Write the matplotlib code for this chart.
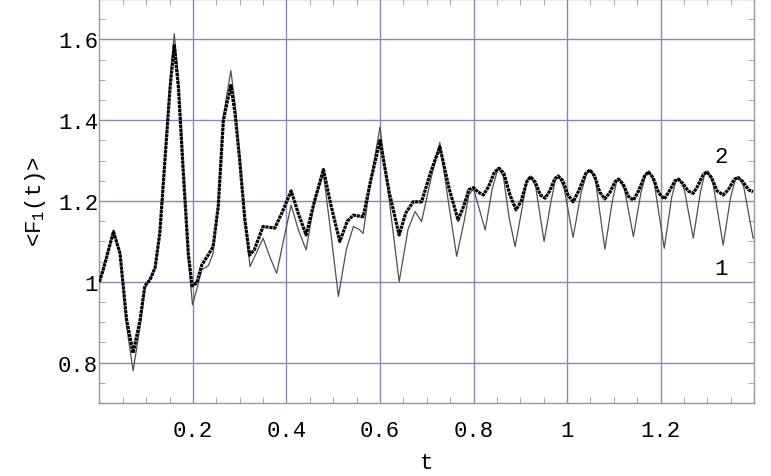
import numpy as np
import matplotlib
matplotlib.use("Agg")
import matplotlib.pyplot as plt
from matplotlib.ticker import MultipleLocator

plt.rcParams['font.family'] = ['Liberation Mono', 'DejaVu Sans Mono']
plt.rcParams['mathtext.fontset'] = 'custom'
plt.rcParams['mathtext.rm'] = 'Liberation Mono'

# curve 2 (thick dotted)
t2 = [0.000, 0.008, 0.030, 0.044, 0.058, 0.072, 0.087, 0.097, 0.108, 0.119,
      0.129, 0.140, 0.151, 0.160, 0.169, 0.179, 0.190, 0.198, 0.208, 0.219,
      0.233, 0.243, 0.254, 0.265, 0.281, 0.290, 0.300, 0.311, 0.321, 0.331,
      0.350, 0.375, 0.390, 0.410, 0.425, 0.442, 0.460, 0.479, 0.495, 0.514,
      0.530, 0.543, 0.564, 0.580, 0.600, 0.620, 0.641, 0.655, 0.671, 0.689,
      0.708, 0.728, 0.748, 0.767,
      0.780, 0.790, 0.800, 0.810, 0.821, 0.832, 0.845, 0.855, 0.865, 0.878,
      0.891, 0.902, 0.914, 0.922, 0.932, 0.943, 0.953, 0.963, 0.974, 0.981,
      0.991, 1.002, 1.013, 1.025, 1.040, 1.049, 1.059, 1.070, 1.081, 1.092,
      1.103, 1.110, 1.120, 1.131, 1.142, 1.153, 1.166, 1.174, 1.184, 1.196,
      1.208, 1.219, 1.231, 1.238, 1.248, 1.259, 1.270, 1.280, 1.291, 1.299,
      1.309, 1.321, 1.334, 1.345, 1.358, 1.366, 1.376, 1.388, 1.398]
f2 = [1.000, 1.030, 1.124, 1.070, 0.906, 0.824, 0.906, 0.990, 1.005, 1.035,
      1.120, 1.300, 1.480, 1.585, 1.480, 1.277, 1.070, 0.990, 0.997, 1.042,
      1.067, 1.087, 1.186, 1.400, 1.486, 1.417, 1.300, 1.153, 1.066, 1.079,
      1.137, 1.133, 1.170, 1.225, 1.170, 1.116, 1.200, 1.278, 1.190, 1.100,
      1.150, 1.165, 1.161, 1.250, 1.350, 1.220, 1.116, 1.170, 1.198, 1.198,
      1.270, 1.334, 1.230, 1.153,
      1.190, 1.228, 1.233, 1.222, 1.215, 1.235, 1.272, 1.281, 1.268, 1.215,
      1.178, 1.200, 1.248, 1.260, 1.247, 1.215, 1.207, 1.225, 1.255, 1.262,
      1.250, 1.215, 1.198, 1.225, 1.268, 1.277, 1.262, 1.222, 1.205, 1.222,
      1.248, 1.254, 1.242, 1.212, 1.202, 1.225, 1.262, 1.272, 1.258, 1.220,
      1.205, 1.225, 1.250, 1.254, 1.243, 1.225, 1.219, 1.238, 1.265, 1.272,
      1.258, 1.225, 1.215, 1.228, 1.254, 1.258, 1.248, 1.228, 1.223]

# curve 1 (thin)
t1 = [0.000, 0.008, 0.030, 0.044, 0.058, 0.072, 0.087, 0.097, 0.108, 0.119,
      0.129, 0.140, 0.151, 0.160, 0.169, 0.179, 0.190, 0.199, 0.210, 0.219,
      0.233, 0.243, 0.254, 0.265, 0.281, 0.290, 0.300, 0.311, 0.322, 0.335,
      0.350, 0.365, 0.379, 0.395, 0.410, 0.425, 0.442, 0.460, 0.479, 0.495,
      0.511, 0.528, 0.543, 0.555, 0.564, 0.580, 0.600, 0.620, 0.641, 0.660,
      0.675, 0.689, 0.708, 0.728, 0.746, 0.764,
      0.780, 0.790, 0.800, 0.810, 0.825, 0.840, 0.853, 0.864, 0.876, 0.889,
      0.902, 0.914, 0.922, 0.933, 0.951, 0.966, 0.975, 0.983, 0.994, 1.013,
      1.030, 1.042, 1.050, 1.061, 1.081, 1.097, 1.106, 1.112, 1.123, 1.142,
      1.158, 1.168, 1.175, 1.186, 1.208, 1.224, 1.233, 1.240, 1.251, 1.270,
      1.285, 1.294, 1.301, 1.312, 1.334, 1.350, 1.360, 1.367, 1.378, 1.398]
f1 = [1.000, 1.030, 1.128, 1.070, 0.890, 0.780, 0.890, 0.985, 1.005, 1.035,
      1.120, 1.310, 1.500, 1.614, 1.500, 1.290, 1.060, 0.943, 0.990, 1.030,
      1.040, 1.070, 1.190, 1.410, 1.523, 1.440, 1.310, 1.150, 1.038, 1.070,
      1.108, 1.060, 1.021, 1.110, 1.190, 1.130, 1.079, 1.200, 1.268, 1.120,
      0.964, 1.080, 1.137, 1.130, 1.120, 1.250, 1.383, 1.200, 1.000, 1.130,
      1.174, 1.149, 1.250, 1.345, 1.200, 1.063,
      1.150, 1.215, 1.230, 1.190, 1.128, 1.230, 1.283, 1.260, 1.160, 1.087,
      1.170, 1.250, 1.262, 1.235, 1.100, 1.200, 1.252, 1.260, 1.230, 1.110,
      1.220, 1.268, 1.278, 1.250, 1.081, 1.200, 1.248, 1.256, 1.228, 1.112,
      1.220, 1.265, 1.275, 1.248, 1.083, 1.210, 1.250, 1.256, 1.228, 1.108,
      1.220, 1.265, 1.275, 1.245, 1.091, 1.210, 1.252, 1.260, 1.235, 1.108]

xticks = [0.2, 0.4, 0.6, 0.8, 1.0, 1.2]
xticklabels = ['0.2', '0.4', '0.6', '0.8', '1', '1.2']
yticks = [0.8, 1.0, 1.2, 1.4, 1.6]
yticklabels = ['0.8', '1', '1.2', '1.4', '1.6']

fig = plt.figure(figsize=(7.71, 4.77), dpi=100)
ax = fig.add_axes([0.129, 0.153, 0.849, 0.847])

ax.plot(t1, f1, color='#505050', lw=0.9, zorder=3)
ax.plot(t2, f2, color='black', lw=2.3, linestyle=(0, (1.0, 0.25)), zorder=4)

ax.set_xlim(0, 1.40)
ax.set_ylim(0.70, 1.70)
ax.set_xticks(xticks)
ax.set_xticklabels(xticklabels)
ax.set_yticks(yticks)
ax.set_yticklabels(yticklabels)
ax.xaxis.set_minor_locator(MultipleLocator(0.05))
ax.yaxis.set_minor_locator(MultipleLocator(0.05))
ax.tick_params(which='both', direction='in', top=True, right=True,
               color='#aaaaaa', labelsize=16)
ax.tick_params(which='major', length=0)
ax.tick_params(which='minor', length=4, width=0.8)
ax.tick_params(axis='x', which='major', pad=12)
ax.tick_params(axis='y', which='major', pad=1)

ax.grid(True, which='major', color='#8888b0', lw=1.0)
ax.set_axisbelow(True)
for s in ax.spines.values():
    s.set_color('#999999')
    s.set_linewidth(1.0)

ax.set_xlabel('t', fontsize=16, labelpad=8)
ax.set_ylabel(r'<F$_\mathrm{1}$(t)>', fontsize=16, labelpad=7)

ax.text(1.33, 1.31, '2', fontsize=16, ha='center', va='center')
ax.text(1.33, 1.034, '1', fontsize=16, ha='center', va='center')

fig.savefig('out.png', dpi=100, facecolor='white')
